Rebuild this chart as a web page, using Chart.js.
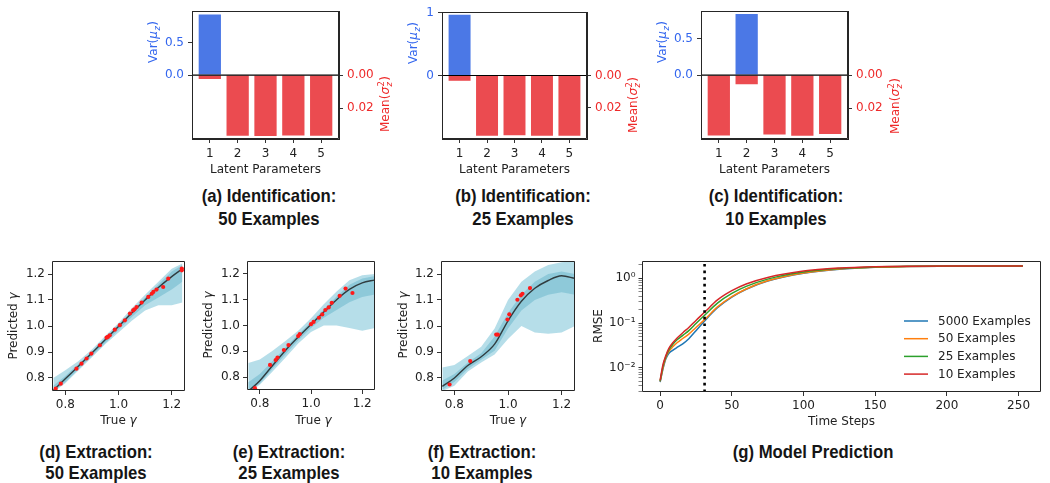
<!DOCTYPE html>
<html>
<head>
<meta charset="utf-8">
<script src="https://cdn.jsdelivr.net/npm/chart.js@4.4.1/dist/chart.umd.min.js"></script>
<style>
  body { margin: 0; background: #fff; }
  #fig { position: relative; width: 1050px; height: 483px; overflow: hidden; }
  #fig canvas { position: absolute; }
  .cap { position: absolute; width: 240px; text-align: center; color: #151515;
         font-family: "Liberation Sans", Arial, sans-serif;
         font-weight: bold; font-size: 19px; transform: scaleX(0.88); transform-origin: 50% 50%; }
</style>
</head>
<body>
<div id="fig">
  <canvas id="ca" width="265" height="180" style="left:135px;top:0"></canvas>
  <canvas id="cb" width="250" height="180" style="left:400px;top:0"></canvas>
  <canvas id="cc" width="265" height="180" style="left:650px;top:0"></canvas>
  <canvas id="cd" width="195" height="180" style="left:0;top:250px"></canvas>
  <canvas id="ce" width="195" height="180" style="left:195px;top:250px"></canvas>
  <canvas id="cf" width="200" height="180" style="left:390px;top:250px"></canvas>
  <canvas id="cg" width="460" height="180" style="left:590px;top:250px"></canvas>

  <div class="cap" style="left:149px;top:184px;line-height:23px">(a) Identification:<br>50 Examples</div>
  <div class="cap" style="left:403px;top:184px;line-height:23px">(b) Identification:<br>25 Examples</div>
  <div class="cap" style="left:656px;top:184px;line-height:23px">(c) Identification:<br>10 Examples</div>
  <div class="cap" style="left:-24px;top:441px;line-height:21px">(d) Extraction:<br>50 Examples</div>
  <div class="cap" style="left:169px;top:441px;line-height:21px">(e) Extraction:<br>25 Examples</div>
  <div class="cap" style="left:362px;top:441px;line-height:21px">(f) Extraction:<br>10 Examples</div>
  <div class="cap" style="left:693px;top:441px;line-height:21px">(g) Model Prediction</div>
</div>

<script>
// ---- identification panels (a)-(c)
const latent = [1, 2, 3, 4, 5];
const varA = [0.937, 0, 0, 0, 0];
const meanA = [0.0024, 0.0368, 0.0369, 0.0366, 0.0367];
const varB = [0.968, 0, 0, 0, 0];
const meanB = [0.0033, 0.0376, 0.0372, 0.0375, 0.0375];
const varC = [0, 0.84, 0, 0, 0];
const meanC = [0.0366, 0.0055, 0.0360, 0.0369, 0.0358];
const varTicksA = [0, 0.5];
const varTicksB = [0, 1];
const varTicksC = [0, 0.5];
const meanTicks = [0, 0.02];

// ---- extraction panels (d)-(f): ensemble band, median line, red test points
const gammaTicksX = [0.8, 1.0, 1.2];
const gammaTicksY = [0.8, 0.9, 1.0, 1.1, 1.2];

const dX = [0.755, 0.80, 0.85, 0.90, 0.95, 1.00, 1.05, 1.10, 1.15, 1.20, 1.24];
const dLine = [0.752, 0.797, 0.846, 0.896, 0.947, 0.998, 1.050, 1.100, 1.148, 1.190, 1.220];
const dDenseLo = [0.748, 0.785, 0.835, 0.885, 0.935, 0.985, 1.035, 1.080, 1.110, 1.140, 1.170];
const dDenseHi = [0.770, 0.808, 0.855, 0.902, 0.955, 1.006, 1.060, 1.110, 1.160, 1.210, 1.235];
const dSparseLo = [0.745, 0.780, 0.830, 0.880, 0.930, 0.975, 1.020, 1.060, 1.080, 1.080, 1.090];
const dSparseHi = [0.800, 0.830, 0.865, 0.910, 0.962, 1.012, 1.068, 1.120, 1.170, 1.220, 1.240];
const dRedX = [0.764, 0.783, 0.842, 0.861, 0.880, 0.898, 0.930, 0.955, 0.960, 0.967, 0.986, 1.005, 1.024, 1.043, 1.055, 1.060, 1.068, 1.087, 1.112, 1.125, 1.131, 1.143, 1.168, 1.187, 1.238, 1.238];
const dRedY = [0.759, 0.778, 0.836, 0.855, 0.875, 0.894, 0.926, 0.955, 0.958, 0.964, 0.986, 1.003, 1.022, 1.048, 1.060, 1.064, 1.073, 1.090, 1.112, 1.124, 1.131, 1.140, 1.150, 1.182, 1.221, 1.214];

const eX = [0.755, 0.80, 0.85, 0.90, 0.95, 1.00, 1.05, 1.10, 1.15, 1.20, 1.25];
const eLine = [0.745, 0.786, 0.845, 0.903, 0.955, 1.004, 1.052, 1.100, 1.140, 1.165, 1.177];
const eDenseLo = [0.740, 0.775, 0.832, 0.888, 0.942, 0.990, 1.030, 1.060, 1.090, 1.110, 1.120];
const eDenseHi = [0.780, 0.812, 0.862, 0.915, 0.965, 1.014, 1.062, 1.112, 1.158, 1.182, 1.192];
const eSparseLo = [0.740, 0.770, 0.822, 0.875, 0.930, 0.975, 1.000, 1.000, 0.990, 0.980, 0.990];
const eSparseHi = [0.855, 0.868, 0.902, 0.940, 0.980, 1.028, 1.082, 1.132, 1.175, 1.195, 1.200];
const eRedX = [0.781, 0.840, 0.862, 0.869, 0.894, 0.912, 0.950, 0.956, 1.000, 1.010, 1.031, 1.044, 1.056, 1.069, 1.081, 1.112, 1.135, 1.162];
const eRedY = [0.757, 0.847, 0.866, 0.876, 0.905, 0.924, 0.959, 0.967, 1.005, 1.014, 1.030, 1.043, 1.060, 1.070, 1.088, 1.115, 1.143, 1.126];

const fX = [0.755, 0.80, 0.85, 0.90, 0.95, 1.00, 1.05, 1.10, 1.15, 1.20, 1.25];
const fLine = [0.768, 0.800, 0.848, 0.882, 0.930, 1.020, 1.095, 1.145, 1.175, 1.193, 1.183];
const fDenseLo = [0.755, 0.785, 0.835, 0.870, 0.905, 0.990, 1.060, 1.100, 1.120, 1.130, 1.120];
const fDenseHi = [0.790, 0.815, 0.860, 0.895, 0.960, 1.050, 1.120, 1.170, 1.200, 1.210, 1.200];
const fSparseLo = [0.750, 0.770, 0.825, 0.860, 0.890, 0.950, 1.000, 0.975, 0.970, 0.975, 1.000];
const fSparseHi = [0.840, 0.850, 0.885, 0.920, 0.990, 1.100, 1.170, 1.210, 1.235, 1.245, 1.250];
const fRedX = [0.782, 0.859, 0.956, 0.962, 0.998, 1.005, 1.035, 1.048, 1.054, 1.082];
const fRedY = [0.775, 0.865, 0.967, 0.967, 1.025, 1.045, 1.101, 1.118, 1.124, 1.146];

// ---- model prediction panel (g)
const steps = [0, 2, 4, 6, 9, 12, 16, 20, 25, 31, 40, 50, 60, 75, 100, 125, 150, 175, 200, 253];
const rmse5000 = [0.0048, 0.0095, 0.016, 0.021, 0.025, 0.029, 0.035, 0.045, 0.068, 0.112, 0.22, 0.38, 0.57, 0.87, 1.30, 1.60, 1.77, 1.85, 1.87, 1.88];
const rmse50 = [0.0050, 0.010, 0.017, 0.023, 0.030, 0.037, 0.046, 0.057, 0.080, 0.120, 0.23, 0.39, 0.58, 0.88, 1.31, 1.61, 1.77, 1.85, 1.87, 1.88];
const rmse25 = [0.0051, 0.011, 0.018, 0.025, 0.034, 0.043, 0.054, 0.068, 0.098, 0.150, 0.28, 0.46, 0.66, 0.96, 1.38, 1.65, 1.80, 1.86, 1.88, 1.89];
const rmse10 = [0.0053, 0.012, 0.019, 0.027, 0.037, 0.047, 0.062, 0.080, 0.115, 0.175, 0.33, 0.53, 0.75, 1.05, 1.46, 1.70, 1.82, 1.87, 1.89, 1.89];
const cutoffStep = 31;
const stepTicks = [0, 50, 100, 150, 200, 250];
const rmseMajor = [0.01, 0.1, 1];
const rmseMinor = [0.003, 0.004, 0.005, 0.006, 0.007, 0.008, 0.009, 0.02, 0.03, 0.04, 0.05, 0.06, 0.07, 0.08, 0.09, 0.2, 0.3, 0.4, 0.5, 0.6, 0.7, 0.8, 0.9, 2];
const rmseLabels = { '0.01': '10\u207B\u00B2', '0.1': '10\u207B\u00B9', '1': '10\u2070' };

const FONT = { family: 'DejaVu Sans', size: 12 };
const BLUE_TXT = '#3366ee';
const RED_TXT = '#ee2a2a';
const INK = '#222';
const SPINE = { display: true, color: '#262626', width: 1 };

// rich text (sub/superscripts, italics) for axis labels
function drawRich(c, it) {
  const s = it.size || 12;
  const fnt = (ital, small) => (ital ? 'italic ' : '') + (small ? s * 0.7 : s) + 'px "DejaVu Sans"';
  const widths = it.parts.map(p => {
    if (p.sub !== undefined || p.sup !== undefined) {
      c.font = fnt(true, true);
      const a = p.sub ? c.measureText(p.sub).width : 0;
      c.font = fnt(false, true);
      const b = p.sup ? c.measureText(p.sup).width : 0;
      return Math.max(a, b) + 1;
    }
    c.font = fnt(p.it, false);
    return c.measureText(p.t).width;
  });
  const w = widths.reduce((a, b) => a + b, 0);
  c.save();
  c.translate(it.x, it.y);
  c.rotate((it.rot || 0) * Math.PI / 180);
  c.fillStyle = it.color || INK;
  c.textAlign = 'left';
  c.textBaseline = 'alphabetic';
  let x = -w / 2;
  const base = s * 0.36;
  it.parts.forEach((p, i) => {
    if (p.sub !== undefined || p.sup !== undefined) {
      if (p.sub) { c.font = fnt(true, true); c.fillText(p.sub, x + 0.5, base + s * 0.22); }
      if (p.sup) { c.font = fnt(false, true); c.fillText(p.sup, x + 0.5, base - s * 0.45); }
    } else {
      c.font = fnt(p.it, false);
      c.fillText(p.t, x, base);
    }
    x += widths[i];
  });
  c.restore();
}

// axes box (matplotlib spines) + rich labels, drawn last
function decorPlugin(items) {
  return {
    id: 'decor',
    afterDraw(chart) {
      const c = chart.ctx;
      const xs = chart.scales.x;
      const ys = Object.values(chart.scales).find(s => s.axis === 'y');
      const l = Math.round(xs.left), r = Math.round(xs.right);
      const t = Math.round(ys.top), b = Math.round(ys.bottom);
      c.save();
      c.setLineDash([]);
      c.strokeStyle = '#262626';
      c.lineWidth = 1;
      c.beginPath();
      c.rect(l + 0.5, t + 0.5, r - l - 1, b - t - 1);
      c.stroke();
      c.restore();
      items.forEach(it => drawRich(c, it));
    }
  };
}

const tickGrid = { drawOnChartArea: false, offset: false, tickLength: 4, tickColor: '#333', lineWidth: 1 };
const fixTicks = list => s => { s.ticks = list.map(v => ({ value: v })); };

function barPanel(id, varVals, meanVals, varTicks, varLim, meanLim, varDec, box, labels) {
  const xMin = 0.36, xMax = 5.64;
  new Chart(document.getElementById(id), {
    type: 'bar',
    data: {
      datasets: [
        { type: 'line', data: [{ x: xMin, y: 0 }, { x: xMax, y: 0 }], yAxisID: 'yL',
          borderColor: '#000', borderWidth: 1.2, pointRadius: 0, order: -1 },
        { label: 'Var', data: latent.map((p, i) => ({ x: p, y: varVals[i] })), yAxisID: 'yL',
          backgroundColor: '#4b78e6', grouped: false, categoryPercentage: 0.8, barPercentage: 1 },
        { label: 'Mean', data: latent.map((p, i) => ({ x: p, y: meanVals[i] })), yAxisID: 'yR',
          backgroundColor: '#eb4b50', grouped: false, categoryPercentage: 0.8, barPercentage: 1 }
      ]
    },
    options: {
      responsive: false, animation: false,
      layout: { padding: { top: box.t, bottom: 0, left: 0, right: 0 } },
      plugins: { legend: { display: false }, tooltip: { enabled: false } },
      scales: {
        x: { type: 'linear', offset: false, min: xMin, max: xMax, afterBuildTicks: fixTicks(latent),
             afterFit: s => { s.height = box.xh; }, grid: tickGrid, border: SPINE,
             ticks: { font: FONT, color: INK, padding: 4, autoSkip: false, maxRotation: 0, callback: v => String(v) } },
        xT: { type: 'linear', position: 'top', offset: false, min: xMin, max: xMax,
              afterBuildTicks: fixTicks([]), afterFit: s => { s.height = 0; },
              grid: { drawOnChartArea: false, drawTicks: false }, border: SPINE, ticks: { display: false } },
        yL: { position: 'left', min: -varLim, max: varLim, afterBuildTicks: fixTicks(varTicks),
              afterFit: s => { s.width = box.lw; }, grid: tickGrid, border: SPINE,
              ticks: { font: FONT, color: BLUE_TXT, padding: 4, autoSkip: false, callback: v => v.toFixed(varDec) } },
        yR: { position: 'right', reverse: true, min: -meanLim, max: meanLim, afterBuildTicks: fixTicks(meanTicks),
              afterFit: s => { s.width = box.rw; }, grid: tickGrid, border: SPINE,
              ticks: { font: FONT, color: RED_TXT, padding: 4, autoSkip: false, callback: v => v.toFixed(2) } }
      }
    },
    plugins: [decorPlugin([
      { x: labels.var[0], y: labels.var[1], rot: -90, color: BLUE_TXT,
        parts: [{ t: 'Var(' }, { t: '\u03BC', it: true }, { sub: 'z' }, { t: ')' }] },
      { x: labels.mean[0], y: labels.mean[1], rot: -90, color: RED_TXT,
        parts: [{ t: 'Mean(' }, { t: '\u03C3', it: true }, { sub: 'z', sup: '2' }, { t: ')' }] },
      { x: labels.xl[0], y: labels.xl[1], parts: [{ t: 'Latent Parameters' }] }
    ])]
  });
}

barPanel('ca', varA, meanA, varTicksA, 0.99, 0.0387, 1, { t: 9, xh: 41, lw: 57, rw: 61 },
  { var: [18, 42], mean: [250, 104], xl: [130.5, 169] });
barPanel('cb', varB, meanB, varTicksB, 1.01, 0.0396, 0, { t: 12, xh: 41, lw: 42, rw: 63 },
  { var: [13, 43], mean: [233, 105], xl: [114.5, 169] });
barPanel('cc', varC, meanC, varTicksC, 0.88, 0.0388, 1, { t: 10, xh: 41, lw: 51, rw: 67 },
  { var: [12, 42], mean: [245, 106], xl: [124.5, 169] });

const pts = (xs, ys) => xs.map((x, i) => ({ x, y: ys[i] }));

function gammaPanel(id, xs, line, dLo, dHi, sLo, sHi, rx, ry, box, labels) {
  // lower "order" is drawn on top
  const band = (ys, fill, color, order) => ({ type: 'line', data: pts(xs, ys), borderWidth: 0, pointRadius: 0,
    fill: fill, backgroundColor: color, order: order });
  new Chart(document.getElementById(id), {
    type: 'scatter',
    data: {
      datasets: [
        band(sLo, false, 'transparent', 6),
        band(sHi, '-1', 'rgba(178,220,232,0.95)', 5),
        band(dLo, false, 'transparent', 4),
        band(dHi, '-1', 'rgba(132,196,214,0.8)', 3),
        { type: 'line', data: pts(xs, line), borderColor: 'rgba(25,25,25,0.8)', borderWidth: 1.4,
          pointRadius: 0, cubicInterpolationMode: 'monotone', order: 2 },
        { data: pts(rx, ry), backgroundColor: '#ff1a1a', borderWidth: 0, pointRadius: 2.1, order: 1 }
      ]
    },
    options: {
      responsive: false, animation: false,
      layout: { padding: { top: box.t, right: box.r, bottom: 0, left: 0 } },
      plugins: { legend: { display: false }, tooltip: { enabled: false } },
      scales: {
        x: { type: 'linear', min: 0.75, max: 1.25, afterBuildTicks: fixTicks(gammaTicksX),
             afterFit: s => { s.height = box.xh; }, grid: tickGrid, border: { display: false },
             ticks: { font: FONT, color: INK, padding: 3, autoSkip: false, maxRotation: 0, callback: v => v.toFixed(1) } },
        y: { min: 0.75, max: 1.25, afterBuildTicks: fixTicks(gammaTicksY),
             afterFit: s => { s.width = box.lw; }, grid: tickGrid, border: { display: false },
             ticks: { font: FONT, color: INK, padding: 3, autoSkip: false, callback: v => v.toFixed(1) } }
      }
    },
    plugins: [decorPlugin([
      { x: labels.y[0], y: labels.y[1], rot: -90, parts: [{ t: 'Predicted ' }, { t: '\u03B3', it: true }] },
      { x: labels.x[0], y: labels.x[1], parts: [{ t: 'True ' }, { t: '\u03B3', it: true }] }
    ])]
  });
}

gammaPanel('cd', dX, dLine, dDenseLo, dDenseHi, dSparseLo, dSparseHi, dRedX, dRedY,
  { t: 11, r: 10, xh: 39, lw: 52 }, { y: [13, 76], x: [118.5, 170] });
gammaPanel('ce', eX, eLine, eDenseLo, eDenseHi, eSparseLo, eSparseHi, eRedX, eRedY,
  { t: 11, r: 15, xh: 40, lw: 52 }, { y: [13, 75], x: [118.5, 170] });
gammaPanel('cf', fX, fLine, fDenseLo, fDenseHi, fSparseLo, fSparseHi, fRedX, fRedY,
  { t: 11, r: 15, xh: 39, lw: 51 }, { y: [13, 75], x: [118, 170] });

// (g)
const yMinG = 0.0029, yMaxG = 2.44;
const series = [
  { label: '5000 Examples', ys: rmse5000, color: '#1f77b4' },
  { label: '50 Examples', ys: rmse50, color: '#ff7f0e' },
  { label: '25 Examples', ys: rmse25, color: '#2ca02c' },
  { label: '10 Examples', ys: rmse10, color: '#d62728' }
];

const legendG = {
  id: 'legendG',
  afterDraw(chart) {
    const c = chart.ctx;
    c.save();
    c.setLineDash([]);
    chart.data.datasets.filter(d => d.label).forEach((d, i) => {
      const y = 71 + i * 17.7;
      c.strokeStyle = d.borderColor;
      c.lineWidth = 1.5;
      c.beginPath(); c.moveTo(314, y); c.lineTo(338, y); c.stroke();
      c.fillStyle = INK;
      c.font = '12px "DejaVu Sans"';
      c.textBaseline = 'middle';
      c.fillText(d.label, 348, y + 0.5);
    });
    c.restore();
  }
};

const majorSet = new Set(rmseMajor);
new Chart(document.getElementById('cg'), {
  type: 'scatter',
  data: {
    datasets: series.map((s, i) => ({
      label: s.label, type: 'line', data: pts(steps, s.ys), borderColor: s.color, borderWidth: 1.5,
      pointRadius: 0, cubicInterpolationMode: 'monotone', order: series.length - i
    })).concat([{
      type: 'line', data: [{ x: cutoffStep, y: yMinG }, { x: cutoffStep, y: yMaxG }],
      borderColor: '#000', borderWidth: 2.6, borderDash: [2.6, 4], pointRadius: 0, order: 0
    }])
  },
  options: {
    responsive: false, animation: false,
    layout: { padding: { top: 11, right: 9, bottom: 0, left: 0 } },
    plugins: { legend: { display: false }, tooltip: { enabled: false } },
    scales: {
      x: { type: 'linear', min: -12.65, max: 265.65, afterBuildTicks: fixTicks(stepTicks),
           afterFit: s => { s.height = 38; }, grid: tickGrid, border: { display: false },
           ticks: { font: FONT, color: INK, padding: 3, autoSkip: false, maxRotation: 0, callback: v => String(v) } },
      y: { type: 'logarithmic', min: yMinG, max: yMaxG,
           afterBuildTicks: s => { s.ticks = rmseMajor.concat(rmseMinor).sort((a, b) => a - b).map(v => ({ value: v })); },
           afterFit: s => { s.width = 52; },
           grid: { drawOnChartArea: false, tickLength: 3.5, tickColor: '#333',
                   tickWidth: ctx => (ctx.tick && majorSet.has(ctx.tick.value) ? 1 : 0.6) },
           border: { display: false },
           ticks: { font: FONT, color: INK, padding: 3, autoSkip: false,
                    callback: v => rmseLabels[String(v)] || '' } }
    }
  },
  plugins: [decorPlugin([
    { x: 8, y: 76, rot: -90, parts: [{ t: 'RMSE' }] },
    { x: 251.5, y: 171, parts: [{ t: 'Time Steps' }] }
  ]), legendG]
});
</script>
</body>
</html>
